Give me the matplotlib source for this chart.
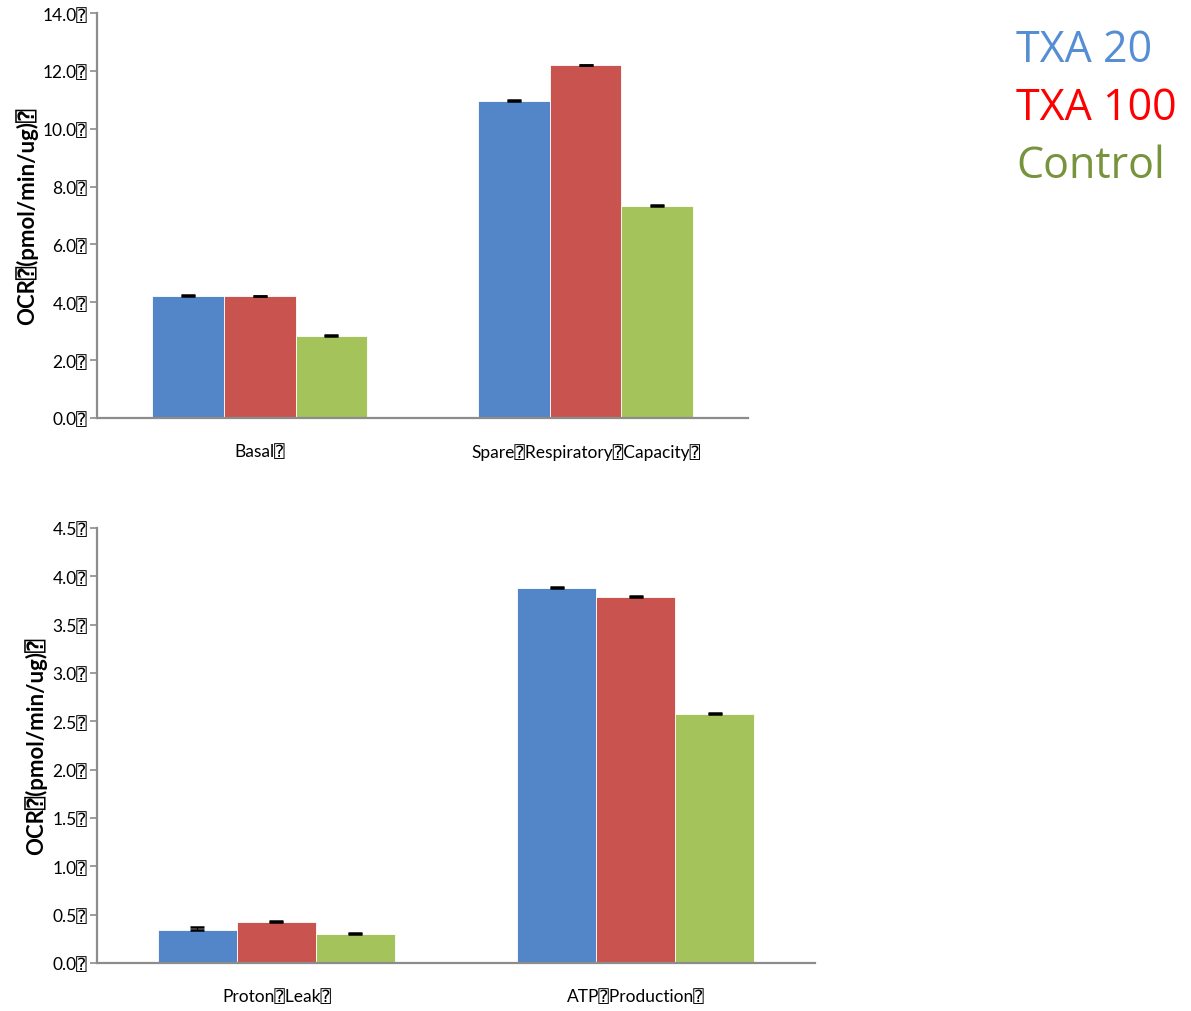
import matplotlib
matplotlib.use("Agg")
import matplotlib.pyplot as plt
import numpy as np

# Placeholder glyph that the source software put where spaces/line breaks were
BOX = "\u2370"

series_names = ["TXA 20", "TXA 100", "Control"]
bar_colors = ["#5386C8", "#C9534F", "#A4C45B"]
legend_colors = ["#558ED5", "#FF0000", "#77933C"]

top_categories = ["Basal", "Spare Respiratory Capacity"]
top_values = {
    "TXA 20": [4.22, 10.96],
    "TXA 100": [4.21, 12.20],
    "Control": [2.83, 7.33],
}
top_errors = {
    "TXA 20": [0.02, 0.02],
    "TXA 100": [0.02, 0.02],
    "Control": [0.03, 0.02],
}
top_ticks = [0.0, 2.0, 4.0, 6.0, 8.0, 10.0, 12.0, 14.0]

bottom_categories = ["Proton Leak", "ATP Production"]
bottom_values = {
    "TXA 20": [0.34, 3.88],
    "TXA 100": [0.42, 3.79],
    "Control": [0.30, 2.58],
}
bottom_errors = {
    "TXA 20": [0.03, 0.01],
    "TXA 100": [0.01, 0.01],
    "Control": [0.01, 0.01],
}
bottom_ticks = [0.0, 0.5, 1.0, 1.5, 2.0, 2.5, 3.0, 3.5, 4.0, 4.5]

y_label = "OCR (pmol/min/ug) "

FAMILY = ["Lato", "DejaVu Sans", "DejaVu Sans Mono"]
plt.rcParams["font.family"] = FAMILY

AXIS_GREY = "#8C8C8C"


def boxed(text):
    return text.replace(" ", BOX) + BOX


def draw_panel(ax, categories, values, errors, ticks):
    x = np.arange(len(categories))
    width = 0.22
    offsets = [-width, 0.0, width]
    for name, color, off in zip(series_names, bar_colors, offsets):
        ax.bar(x + off, values[name], width=width, color=color,
               edgecolor="white", linewidth=0.6, zorder=2)
        ax.errorbar(x + off, values[name],
                    yerr=[np.zeros(len(categories)), errors[name]],
                    fmt="none", ecolor="black", elinewidth=0.8,
                    capsize=5, capthick=1.8, zorder=3)
    ax.set_xlim(-0.5, len(categories) - 0.5)
    ax.set_ylim(ticks[0], ticks[-1])
    ax.set_yticks(ticks)
    ax.set_yticklabels([f"{t:.1f}" + BOX for t in ticks], fontsize=12.5)
    ax.set_xticks(x)
    ax.set_xticklabels([boxed(c) for c in categories], fontsize=12.5)
    ax.tick_params(axis="x", length=0, pad=18)
    ax.tick_params(axis="y", length=5, width=1.2, color=AXIS_GREY, pad=2)
    for side in ("top", "right"):
        ax.spines[side].set_visible(False)
    for side in ("left", "bottom"):
        ax.spines[side].set_color(AXIS_GREY)
        ax.spines[side].set_linewidth(1.6)
    ax.set_ylabel(y_label.replace(" ", BOX), fontsize=16, fontweight="bold")


fig = plt.figure(figsize=(11.91, 10.12), dpi=100)

ax_top = fig.add_axes([0.0814, 0.586, 0.547, 0.400])
draw_panel(ax_top, top_categories, top_values, top_errors, top_ticks)
ax_top.yaxis.set_label_coords(-0.09, 0.5)

ax_bot = fig.add_axes([0.0814, 0.0474, 0.603, 0.430])
draw_panel(ax_bot, bottom_categories, bottom_values, bottom_errors, bottom_ticks)
ax_bot.yaxis.set_label_coords(-0.07, 0.5)

# Series key as coloured text in the upper right
for i, (name, color) in enumerate(zip(series_names, legend_colors)):
    fig.text(0.853, 0.950 - i * 0.0573, name, color=color, fontsize=31,
             ha="left", va="center", family=["Open Sans", "DejaVu Sans"])

fig.savefig("out.png", dpi=100)
